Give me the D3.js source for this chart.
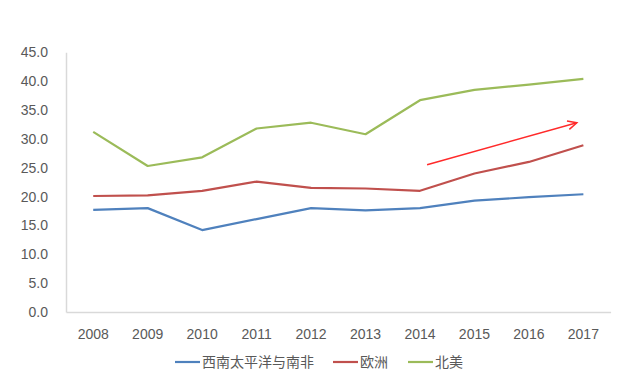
<!DOCTYPE html>
<html>
<head>
<meta charset="utf-8">
<script src="https://cdn.jsdelivr.net/npm/d3@7"></script>
<style>
  body { margin: 0; background: #fff; }
  text { font-family: "Liberation Sans", Arial, sans-serif; fill: #595959; }
  .legend text { font-family: "Noto Sans CJK SC", sans-serif; }
</style>
</head>
<body>
<div id="chart"></div>
<script>
// data
const years = ["2008", "2009", "2010", "2011", "2012", "2013", "2014", "2015", "2016", "2017"];
const swPacificSouthAfrica = [17.7, 18.0, 14.2, 16.1, 18.0, 17.6, 18.0, 19.3, 19.9, 20.4];
const europe = [20.1, 20.2, 21.0, 22.6, 21.5, 21.4, 21.0, 24.0, 26.0, 28.9];
const northAmerica = [31.2, 25.3, 26.8, 31.8, 32.8, 30.8, 36.7, 38.5, 39.4, 40.4];
const seriesNames = ["西南太平洋与南非", "欧洲", "北美"];
const yTicks = [0, 5, 10, 15, 20, 25, 30, 35, 40, 45];
// trend arrow, in (category index, value)
const arrowFrom = [6.13, 25.5];
const arrowTo = [8.88, 32.8];

const width = 640, height = 383;
const colors = ["#4F81BD", "#C0504D", "#9BBB59"];

const svg = d3.select("#chart").append("svg")
  .attr("width", width)
  .attr("height", height);

const x = d3.scaleBand().domain(years).range([66, 610.6]);
const xi = d3.scaleLinear().domain([0, 1]).range([x(years[0]) + x.bandwidth() / 2, x(years[1]) + x.bandwidth() / 2]);
const y = d3.scaleLinear().domain([0, 45]).range([312, 52.3]);

// axes
const yAxis = svg.append("g")
  .attr("transform", "translate(66,0)")
  .call(d3.axisLeft(y).tickValues(yTicks).tickFormat(d3.format(".1f")).tickSize(0).tickPadding(18));
yAxis.select(".domain").attr("stroke", "#d9d9d9").attr("stroke-width", 1.5);
yAxis.selectAll("text").style("font-size", "14px").attr("fill", "#595959");

const xAxis = svg.append("g")
  .attr("transform", "translate(0,312)")
  .call(d3.axisBottom(x).tickSize(0).tickPadding(17));
xAxis.select(".domain").attr("stroke", "#d9d9d9").attr("stroke-width", 1.5);
xAxis.selectAll("text").style("font-size", "14px").attr("fill", "#595959");

// lines
const line = d3.line()
  .x((d, i) => x(years[i]) + x.bandwidth() / 2)
  .y(d => y(d));

[swPacificSouthAfrica, europe, northAmerica].forEach((s, k) => {
  svg.append("path")
    .datum(s)
    .attr("fill", "none")
    .attr("stroke", colors[k])
    .attr("stroke-width", 2.2)
    .attr("stroke-linejoin", "round")
    .attr("d", line);
});

// red trend arrow
const ax0 = xi(arrowFrom[0]), ay0 = y(arrowFrom[1]);
const ax1 = xi(arrowTo[0]), ay1 = y(arrowTo[1]);
svg.append("line")
  .attr("x1", ax0).attr("y1", ay0)
  .attr("x2", ax1).attr("y2", ay1)
  .attr("stroke", "#ff2a2a")
  .attr("stroke-width", 1.5);
const ang = Math.atan2(ay1 - ay0, ax1 - ax0);
const headLen = 10;
svg.append("path")
  .attr("d", "M" + (ax1 - headLen * Math.cos(ang - 0.45)) + "," + (ay1 - headLen * Math.sin(ang - 0.45))
    + "L" + ax1 + "," + ay1
    + "L" + (ax1 - headLen * Math.cos(ang + 0.45)) + "," + (ay1 - headLen * Math.sin(ang + 0.45)))
  .attr("fill", "none")
  .attr("stroke", "#ff2a2a")
  .attr("stroke-width", 1.5);

// legend
const legendX = [175, 333, 408];
const legend = svg.append("g").attr("class", "legend");
seriesNames.forEach((name, k) => {
  legend.append("line")
    .attr("x1", legendX[k]).attr("x2", legendX[k] + 25)
    .attr("y1", 362).attr("y2", 362)
    .attr("stroke", colors[k])
    .attr("stroke-width", 2.2);
  legend.append("text")
    .attr("x", legendX[k] + 27)
    .attr("y", 362)
    .attr("dy", "0.35em")
    .style("font-size", "14px")
    .text(name);
});
</script>
</body>
</html>
